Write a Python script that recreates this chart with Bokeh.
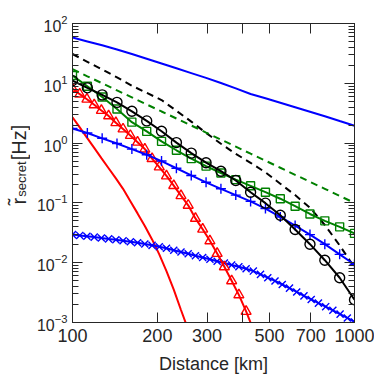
from bokeh.plotting import figure
from bokeh.models import FixedTicker, LogAxis, Range1d, CustomJSTickFormatter
from bokeh.layouts import row, column
from bokeh.embed import file_html
from bokeh.resources import INLINE
from bokeh.core.properties import value
import math

# ---- data ----
dist20 = [100.0, 112.9, 127.4, 143.8, 162.4, 183.3, 206.9, 233.6, 263.7, 297.6,
          336.0, 379.3, 428.1, 483.3, 545.6, 615.8, 695.2, 784.8, 885.9, 1000.0]
dist40 = [100.0, 106.1, 112.5, 119.4, 126.6, 134.3, 142.5, 151.1, 160.4, 170.1,
          180.5, 191.5, 203.1, 215.4, 228.6, 242.5, 257.2, 272.9, 289.5, 307.1,
          325.8, 345.6, 366.7, 389.0, 412.7, 437.8, 464.2, 492.6, 522.5, 554.3,
          588.1, 623.9, 661.9, 702.2, 744.9, 790.3, 838.0, 889.0, 943.2, 1000.0]

blue_solid = [58.2, 50.1, 43.2, 36.7, 30.9, 25.7, 21.4, 17.8, 14.8, 12.3,
              10.1, 8.22, 6.61, 5.62, 4.73, 3.98, 3.35, 2.82, 2.34, 1.95]
black_dashed = [30.9, 22.9, 17.0, 12.6, 9.12, 6.92, 5.25, 3.47, 2.29, 1.48,
                0.977, 0.661, 0.468, 0.324, 0.209, 0.135, 0.0832, 0.0427, 0.0195, 0.0083]
green_dashed = [17.2, 13.1, 10.0, 7.62, 5.81, 4.43, 3.38, 2.58, 1.97, 1.50,
                1.145, 0.873, 0.665, 0.508, 0.387, 0.295, 0.225, 0.172, 0.131, 0.100]
black_circles = [11.1, 8.4, 6.4, 4.8, 3.4, 2.35, 1.58, 1.02, 0.68, 0.47,
                 0.339, 0.237, 0.151, 0.099, 0.062, 0.036, 0.0204, 0.011, 0.0056, 0.0024]
green_squares = [13.5, 8.91, 5.89, 3.72, 2.24, 1.57, 1.07, 0.759, 0.550, 0.412,
                 0.316, 0.245, 0.193, 0.151, 0.1175, 0.0881, 0.0653, 0.0501, 0.0398, 0.0309]
blue_plus = [1.758, 1.479, 1.202, 0.984, 0.794, 0.638, 0.501, 0.380, 0.288, 0.221,
             0.172, 0.135, 0.106, 0.0804, 0.0582, 0.0417, 0.0295, 0.0204, 0.0138, 0.00933]
red_triangles = [8.18, 6.58, 5.42, 4.37, 3.51, 2.85, 2.19, 1.72, 1.34, 1.035,
                 0.794, 0.55, 0.398, 0.282, 0.195, 0.132, 0.0912, 0.055, 0.0363, 0.0232,
                 0.01426, 0.00853, 0.00498, 0.0029, 0.00153, 0.00076]
red_solid = [2.71, 1.83, 1.236, 0.834, 0.562, 0.380, 0.257, 0.172, 0.107, 0.0668,
             0.0412, 0.0245, 0.0138, 0.00724, 0.00355, 0.00162, 0.00076]
blue_x = [0.0295, 0.0286, 0.0277, 0.0268, 0.0259, 0.0250, 0.0242, 0.0233, 0.0224, 0.0215,
          0.0205, 0.0195, 0.0185, 0.0174, 0.0162, 0.0151, 0.0141, 0.0131, 0.0122, 0.0114,
          0.0106, 0.00986, 0.00918, 0.00855, 0.00794, 0.00724, 0.00638, 0.00562, 0.00495, 0.00432,
          0.00376, 0.00324, 0.00279, 0.00243, 0.00211, 0.00184, 0.00160, 0.00138, 0.00119, 0.00102]

x_ticks = [100, 200, 300, 400, 500, 700, 1000]
x_tick_labels = ["100", "200", "300", "", "500", "700", "1000"]
y_ticks = [1e-3, 1e-2, 1e-1, 1e0, 1e1, 1e2]
y_minor = [m * t for t in y_ticks[:-1] for m in range(2, 10)]

FONT = "Liberation Sans"
TXT = "#262626"
AX = "#262626"
BLUE = "#0000ff"
RED = "#ff0000"
GREEN = "#008000"
BLACK = "#000000"

# ---- main plot ----
p = figure(width=344, height=352, x_axis_type="log", y_axis_type="log",
           x_range=Range1d(100, 1000), y_range=Range1d(1e-3, 1e2),
           output_backend="svg", toolbar_location=None,
           min_border_left=42, min_border_right=20, min_border_top=23, min_border_bottom=30)
p.grid.visible = False
p.outline_line_color = AX
p.background_fill_color = "white"
p.border_fill_color = "white"

xt = FixedTicker(ticks=x_ticks, minor_ticks=[])
yt = FixedTicker(ticks=y_ticks, minor_ticks=y_minor)

xa = p.xaxis[0]
ya = p.yaxis[0]
xa.ticker = xt
lab_js = "{" + ",".join("%d:'%s'" % (t, s) for t, s in zip(x_ticks, x_tick_labels)) + "}"
xa.formatter = CustomJSTickFormatter(code="const m = %s; const k = Math.round(tick); return (k in m) ? m[k] : '';" % lab_js)
ya.ticker = yt
for ax in (xa, ya):
    ax.major_tick_in = 10
    ax.major_tick_out = 0
    ax.minor_tick_in = 6
    ax.minor_tick_out = 0
    ax.axis_line_color = AX
    ax.major_tick_line_color = AX
    ax.minor_tick_line_color = AX
    ax.major_label_text_font = FONT
    ax.major_label_text_color = TXT
xa.major_label_text_font_size = "18px"
xa.major_label_standoff = 6
ya.major_label_text_font_size = "16px"
ya.major_label_standoff = 5

top = LogAxis(ticker=xt, formatter=CustomJSTickFormatter(code="return '';"),
              major_tick_in=10, major_tick_out=0, minor_tick_in=0, minor_tick_out=0,
              major_label_text_font_size="0px", major_label_standoff=0,
              axis_line_color=AX, major_tick_line_color=AX)
right = LogAxis(ticker=yt, formatter=CustomJSTickFormatter(code="return '';"),
                major_tick_in=10, major_tick_out=0, minor_tick_in=6, minor_tick_out=0,
                major_label_text_font_size="0px", major_label_standoff=0,
                axis_line_color=AX, major_tick_line_color=AX, minor_tick_line_color=AX)
p.add_layout(top, "above")
p.add_layout(right, "right")

LW = 2
MLW = 1.4
p.line(dist20, blue_solid, line_color=BLUE, line_width=LW)
p.line(dist20, black_dashed, line_color=BLACK, line_width=LW, line_dash="7 5")
p.line(dist20, green_dashed, line_color=GREEN, line_width=LW, line_dash="7 5")
p.line(dist40[:len(red_solid)], red_solid, line_color=RED, line_width=LW)
p.line(dist40, blue_x, line_color=BLUE, line_width=LW)
p.scatter(dist40, blue_x, marker="x", size=10, line_color=BLUE, line_width=MLW)
p.line(dist40[:len(red_triangles)], red_triangles, line_color=RED, line_width=LW)
p.scatter(dist40[:len(red_triangles)], red_triangles, marker="triangle", size=10,
          line_color=RED, fill_color=None, line_width=MLW)
p.line(dist20, blue_plus, line_color=BLUE, line_width=LW)
p.scatter(dist20, blue_plus, marker="cross", size=10, line_color=BLUE, line_width=MLW)
p.line(dist20, green_squares, line_color=GREEN, line_width=LW)
p.scatter(dist20, green_squares, marker="square", size=8, line_color=GREEN,
          fill_color=None, line_width=MLW)
p.line(dist20, black_circles, line_color=BLACK, line_width=LW)
p.scatter(dist20, black_circles, marker="circle", size=10, line_color=BLACK,
          fill_color=None, line_width=MLW)


def text_panel(w, h):
    f = figure(width=w, height=h, x_range=Range1d(0, w), y_range=Range1d(0, h),
               output_backend="svg", toolbar_location=None, min_border=0,
               x_axis_location=None, y_axis_location=None)
    f.grid.visible = False
    f.outline_line_color = None
    f.background_fill_color = "white"
    f.border_fill_color = "white"
    return f


# ---- y-axis title panel (pixel coordinates) ----
yl = text_panel(30, 352)
ang = math.pi / 2
yl.text(x=[18], y=[139], text=["r\u0303"], angle=ang, text_align="left",
        text_baseline="alphabetic", text_font=value(FONT), text_font_size=value("20px"),
        text_color=TXT)
yl.text(x=[21], y=[148], text=["secret"], angle=ang, text_align="left",
        text_baseline="alphabetic", text_font=value(FONT), text_font_size=value("13px"),
        text_color=TXT)
yl.text(x=[18], y=[191], text=["[Hz]"], angle=ang, text_align="left",
        text_baseline="alphabetic", text_font=value(FONT), text_font_size=value("20px"),
        text_color=TXT)

# ---- x-axis title panel ----
xl = text_panel(374, 22)
xl.text(x=[213], y=[11], text=["Distance [km]"], text_align="center",
        text_baseline="middle", text_font=value(FONT), text_font_size=value("18px"),
        text_color=TXT)

layout = column(row(yl, p), xl)
open("out.html", "w").write(file_html(layout, INLINE))
